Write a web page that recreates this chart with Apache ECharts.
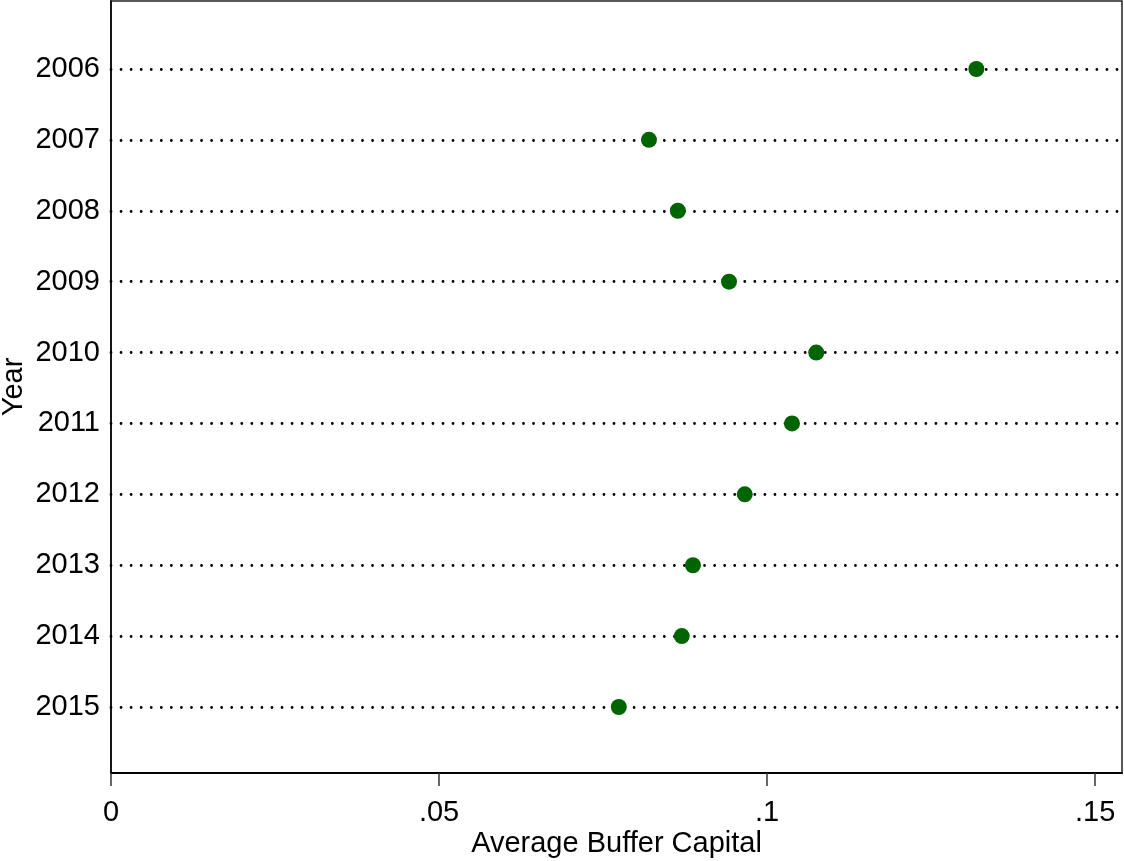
<!DOCTYPE html>
<html>
<head>
<meta charset="utf-8">
<title>Average Buffer Capital by Year</title>
<script src="https://cdn.jsdelivr.net/npm/echarts@6/dist/echarts.min.js"></script>
<style>
  html, body { margin: 0; padding: 0; background: #fff; }
  #chart { width: 1124px; height: 861px; }
</style>
</head>
<body>
<div id="chart"></div>
<script>
// Years shown on the vertical axis, top to bottom
const years = ['2006', '2007', '2008', '2009', '2010', '2011', '2012', '2013', '2014', '2015'];
// Average buffer capital for each year
const bufferCapital = [0.1319, 0.0820, 0.0864, 0.0942, 0.1075, 0.1038, 0.0966, 0.0887, 0.0870, 0.0774];
// Horizontal axis ticks
const xTicks = [0, 0.05, 0.1, 0.15];

const rowIndex = years.map((_, i) => i);
const font = 'Liberation Sans, Arial, Helvetica, sans-serif';
const fontSize = 29;

const chart = echarts.init(document.getElementById('chart'), null, { renderer: 'canvas' });

chart.setOption({
  animation: false,
  backgroundColor: '#ffffff',
  grid: {
    left: 111, right: 2, top: 1, bottom: 88,
    outerBoundsMode: 'none',
    containLabel: false,
    show: true, borderColor: '#222', borderWidth: 1.5, backgroundColor: '#ffffff'
  },
  xAxis: {
    type: 'value',
    min: 0,
    max: 0.1541,
    interval: 0.05,
    name: 'Average Buffer Capital',
    nameLocation: 'middle',
    nameGap: 56,
    nameMoveOverlap: false,
    nameTextStyle: { fontFamily: font, fontSize: fontSize, color: '#000' },
    axisLine: { show: true, onZero: false, lineStyle: { color: '#000', width: 2 } },
    axisTick: { show: true, length: 13, customValues: xTicks, lineStyle: { color: '#333', width: 1.5 } },
    axisLabel: {
      customValues: xTicks,
      margin: 25,
      fontFamily: font, fontSize: fontSize, color: '#000',
      formatter: v => v === 0 ? '0' : String(v).replace(/^0/, '')
    },
    splitLine: { show: false }
  },
  yAxis: {
    type: 'value',
    inverse: true,
    min: -0.959,
    max: 9.931,
    name: 'Year',
    nameLocation: 'middle',
    nameGap: 83,
    nameRotate: 90,
    nameMoveOverlap: false,
    nameTextStyle: { fontFamily: font, fontSize: fontSize, color: '#000' },
    axisLine: { show: true, onZero: false, lineStyle: { color: '#000', width: 1.5 } },
    axisTick: { show: false },
    axisLabel: {
      customValues: rowIndex,
      margin: 11,
      fontFamily: font, fontSize: fontSize, color: '#000',
      formatter: v => years[Math.round(v)] || ''
    },
    splitLine: { show: false }
  },
  series: [{
    type: 'scatter',
    symbol: 'circle',
    symbolSize: 16,
    itemStyle: { color: '#006400', opacity: 1 },
    z: 3,
    data: bufferCapital.map((v, i) => [v, i]),
    markLine: {
      silent: true,
      symbol: ['none', 'none'],
      label: { show: false },
      z: 1,
      lineStyle: { color: '#000', width: 2.8, type: [0.01, 10.05], cap: 'round', opacity: 1 },
      data: rowIndex.map(i => ({ yAxis: i }))
    }
  }]
});
</script>
</body>
</html>
